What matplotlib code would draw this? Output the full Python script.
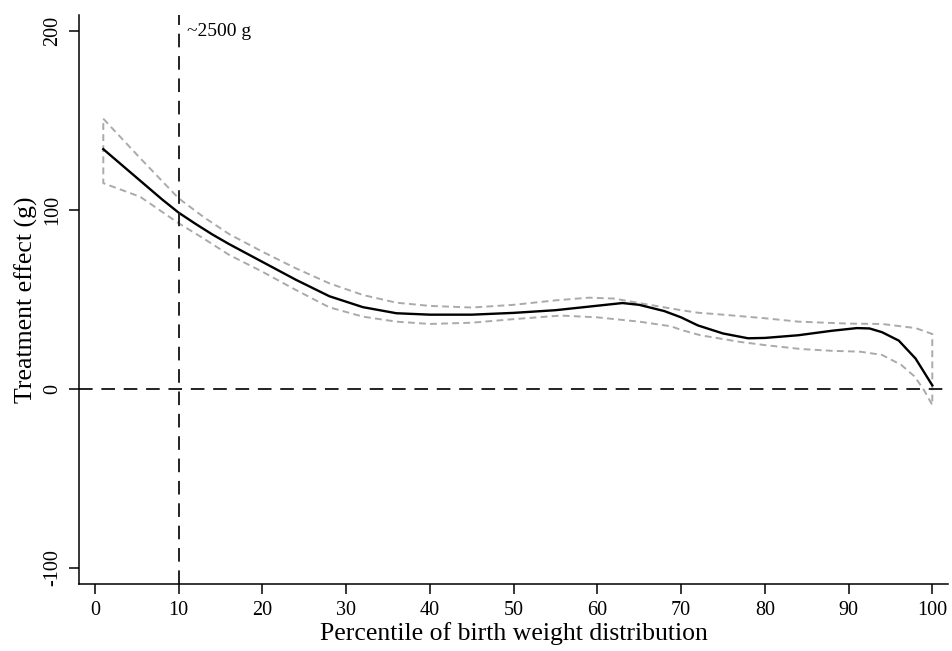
import matplotlib.pyplot as plt
import numpy as np

plt.rcParams["font.family"] = ["Liberation Serif", "DejaVu Serif"]

# efecto estimado (linea negra)
pct = [1, 3.5, 6, 8, 10, 12, 14, 16, 20, 24, 28, 32, 36, 40, 45, 50, 55, 60,
       63, 65, 68, 70, 72, 75, 78, 80, 84, 88, 91, 92.5, 94, 96, 98, 100]
efecto = [134, 124, 114, 106, 98.5, 92.3, 86.4, 81, 71, 61, 51.8, 45.7, 42.3,
          41.5, 41.5, 42.5, 44, 46.5, 48, 47, 43.5, 40, 35.5, 31, 28.3, 28.5,
          30, 32.5, 34, 33.8, 31.7, 27, 17, 2]

# banda de confianza
pct_sup = [1, 5.4, 10, 13, 16, 20, 24, 28, 32, 36, 40, 45, 50, 55, 59, 62,
           65, 70, 72, 75, 80, 84, 90, 94, 98, 100]
ic_sup = [151, 129, 106.5, 96, 86.6, 76.7, 67.4, 59, 52.5, 48.2, 46.4, 45.5,
          47, 49.5, 51, 50.5, 48, 44, 42.6, 41.5, 39.5, 37.6, 36.5, 36.3, 34,
          30.7]
pct_inf = [1, 5.4, 10, 13, 16, 20, 24, 28, 32, 36, 40, 45, 50, 55.6, 60, 65,
           68.8, 70, 72.3, 77, 80, 84.3, 88, 91.4, 94, 96.3, 97.9, 99, 100]
ic_inf = [115, 107.4, 92.6, 84, 75, 65.5, 55.3, 45.6, 40.4, 37.6, 36.3, 37,
          39, 41, 40, 37.6, 35, 33, 30, 26.3, 24.5, 22.3, 21.3, 20.8, 19,
          13.4, 6.9, -0.6, -9]

xticks = list(range(0, 101, 10))
yticks = [-100, 0, 100, 200]

fig = plt.figure(figsize=(9.52, 6.51), dpi=100)
ax = fig.add_axes([0.083, 0.103, 0.913, 0.874])

# contorno cerrado de la banda
bx = np.concatenate([pct_sup, pct_inf[::-1], pct_sup[:1]])
by = np.concatenate([ic_sup, ic_inf[::-1], ic_sup[:1]])
ax.plot(bx, by, color="#aaaaaa", linewidth=1.4, dashes=(3.5, 2.2))

ax.plot(pct, efecto, color="black", linewidth=1.7)

ax.axhline(0, color="#222222", linewidth=1.4, dashes=(7, 4.5))
ax.axvline(10, color="#222222", linewidth=1.4, dashes=(7, 4.5))
ax.text(11.0, 200, "~2500 g", fontsize=14, va="center", ha="left")

ax.set_xlim(-1.9, 101.9)
ax.set_ylim(-109, 209)
ax.set_xticks(xticks)
ax.set_yticks(yticks)
ax.set_yticklabels([str(v) for v in yticks], rotation=90, va="center")
ax.tick_params(axis="both", direction="out", length=7, width=1.1,
               labelsize=14.5, pad=5)

for lado in ("top", "right"):
    ax.spines[lado].set_visible(False)
for lado in ("left", "bottom"):
    ax.spines[lado].set_linewidth(1.1)

ax.set_xlabel("Percentile of birth weight distribution", fontsize=18.5, labelpad=2)
ax.set_ylabel("Treatment effect (g)", fontsize=18.5, labelpad=4)

fig.savefig("out.png", dpi=100)
